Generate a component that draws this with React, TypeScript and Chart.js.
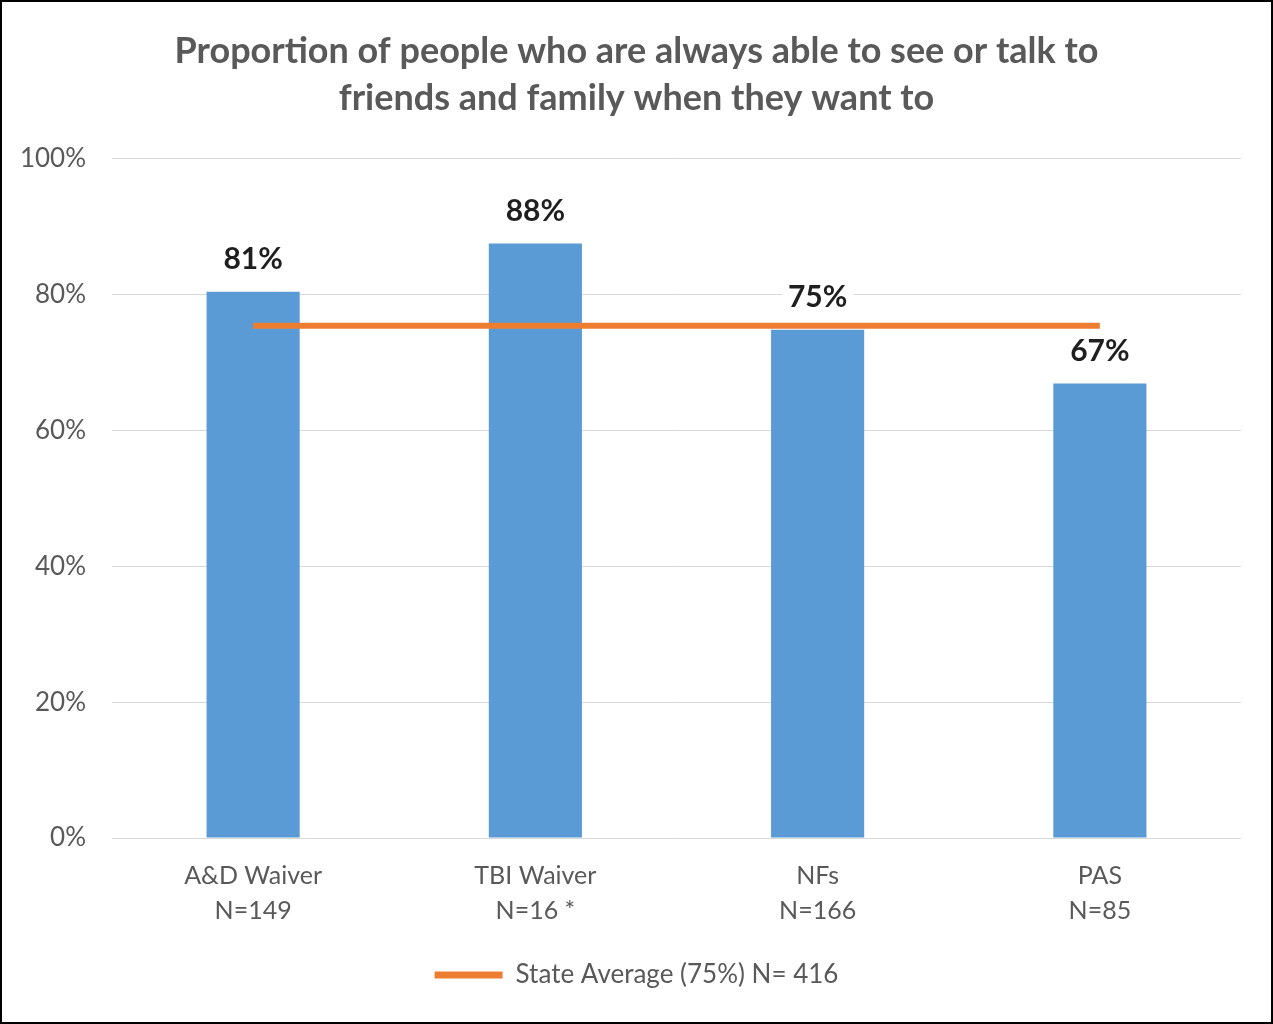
import React, { useEffect, useRef } from "react";
import { Chart, registerables } from "chart.js";

Chart.register(...registerables);

const categories: string[][] = [
  ["A&D Waiver", "N=149"],
  ["TBI Waiver", "N=16 *"],
  ["NFs", "N=166"],
  ["PAS", "N=85"],
];
const barValues: number[] = [80.4, 87.5, 74.8, 66.9];
const barLabels: string[] = ["81%", "88%", "75%", "67%"];
const stateAverage: number[] = [75.4, 75.4, 75.4, 75.4];
const stateAverageLabel = "State Average (75%) N= 416";
const titleLines: string[] = [
  "Proportion of people who are always able to see or talk to",
  "friends and family when they want to",
];
const yTicks: number[] = [0, 20, 40, 60, 80, 100];

const FONT = "Lato, 'Open Sans', sans-serif";

const dataLabelPlugin = {
  id: "dataLabels",
  afterDatasetsDraw(chart: any) {
    const meta = chart.getDatasetMeta(0);
    const ctx = chart.ctx;
    ctx.save();
    ctx.font = `bold 30px ${FONT}`;
    ctx.textAlign = "center";
    ctx.textBaseline = "middle";
    meta.data.forEach((bar: any, i: number) => {
      const text = barLabels[i];
      const y = bar.y - 32;
      const w = ctx.measureText(text).width + 12;
      ctx.fillStyle = "#ffffff";
      ctx.fillRect(bar.x - w / 2, y - 17, w, 34);
      ctx.fillStyle = "#1f1f1f";
      ctx.fillText(text, bar.x, y);
    });
    ctx.restore();
  },
};

export default function App() {
  const canvasRef = useRef<HTMLCanvasElement | null>(null);

  useEffect(() => {
    if (!canvasRef.current) return;
    const chart = new Chart(canvasRef.current, {
      type: "bar",
      data: {
        labels: categories,
        datasets: [
          {
            type: "bar",
            label: "Proportion",
            data: barValues,
            backgroundColor: "#5b9bd5",
            barPercentage: 0.33,
            categoryPercentage: 1,
            order: 1,
          },
          {
            type: "line",
            label: stateAverageLabel,
            data: stateAverage,
            borderColor: "#ed7d31",
            backgroundColor: "#ed7d31",
            borderWidth: 6,
            pointRadius: 0,
            fill: false,
            order: 0,
          } as any,
        ],
      },
      options: {
        responsive: false,
        animation: false,
        maintainAspectRatio: false,
        layout: { padding: { left: 0, right: 0, top: 0, bottom: 24 } },
        plugins: {
          tooltip: { enabled: false },
          title: {
            display: true,
            text: titleLines,
            color: "#595959",
            font: { family: FONT, size: 36, weight: "bold", lineHeight: 1.3 },
            padding: { top: 26, bottom: 37 },
          },
          legend: {
            position: "bottom",
            labels: {
              font: { family: FONT, size: 26 },
              color: "#595959",
              boxWidth: 68,
              boxHeight: 7,
              padding: 10,
              filter: (item: any) => item.datasetIndex === 1,
              generateLabels: () => [
                {
                  text: stateAverageLabel,
                  fillStyle: "#ed7d31",
                  strokeStyle: "#ed7d31",
                  lineWidth: 0,
                  datasetIndex: 1,
                  hidden: false,
                  fontColor: "#595959",
                },
              ],
            },
          },
        },
        scales: {
          x: {
            grid: { display: false },
            border: { display: false },
            ticks: {
              color: "#595959",
              font: { family: FONT, size: 25, lineHeight: 1.4 },
              padding: 12,
              maxRotation: 0,
            },
            afterFit: (s: any) => {
              s.height = 114;
            },
          },
          y: {
            min: 0,
            max: 100,
            afterBuildTicks: (s: any) => {
              s.ticks = yTicks.map((v) => ({ value: v }));
            },
            ticks: {
              color: "#595959",
              font: { family: FONT, size: 26 },
              padding: 26,
              callback: (v: any) => `${v}%`,
            },
            grid: { color: "#d9d9d9", drawTicks: false, lineWidth: 1 },
            border: { display: false },
            afterFit: (s: any) => {
              s.width = 110;
            },
          },
          yRight: {
            position: "right",
            min: 0,
            max: 100,
            grid: { display: false },
            border: { display: false },
            ticks: { display: false },
            afterFit: (s: any) => {
              s.width = 30;
            },
          },
        },
      },
      plugins: [dataLabelPlugin],
    });
    return () => chart.destroy();
  }, []);

  return (
    <div
      style={{
        position: "fixed",
        left: 0,
        top: 0,
        width: 1273,
        height: 1024,
        boxSizing: "border-box",
        border: "2px solid #000",
        background: "#fff",
      }}
    >
      <canvas ref={canvasRef} width={1269} height={1020} style={{ display: "block" }} />
    </div>
  );
}
